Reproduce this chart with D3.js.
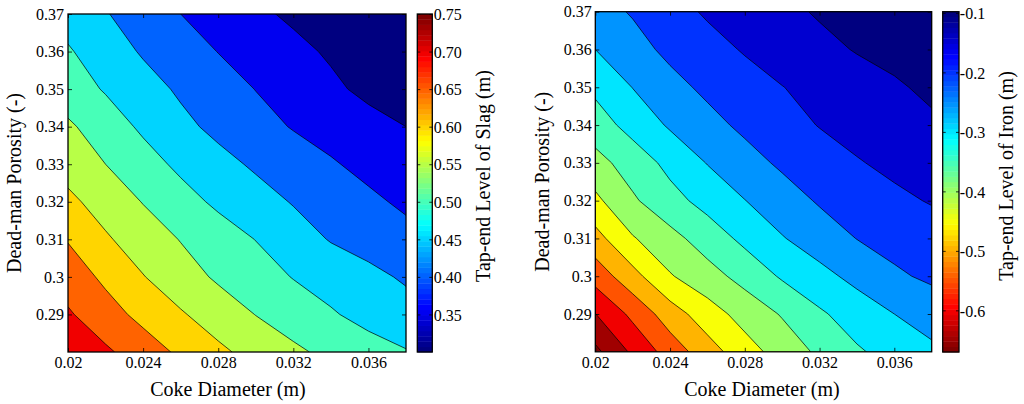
<!DOCTYPE html>
<html>
<head>
<meta charset="utf-8">
<script src="https://cdn.jsdelivr.net/npm/d3@7"></script>
<style>
  html, body { margin: 0; padding: 0; background: #fff; }
  svg { display: block; font-family: "Liberation Serif", "Times New Roman", serif; }
</style>
</head>
<body>
<svg id="chart" width="1024" height="404"></svg>
<script>
// Sample grid: coke diameter (m) across, dead-man porosity (-) up
const cokeDiameter = [0.020, 0.022, 0.024, 0.026, 0.028, 0.030, 0.032, 0.034, 0.036, 0.038];
const porosity = [0.28, 0.29, 0.30, 0.31, 0.32, 0.33, 0.34, 0.35, 0.36, 0.37];

// Tap-end level of slag (m): one row per porosity, one column per coke diameter
const slagLevel = [
  [0.750, 0.708, 0.675, 0.641, 0.610, 0.583, 0.559, 0.538, 0.520, 0.503],
  [0.706, 0.670, 0.636, 0.605, 0.576, 0.549, 0.527, 0.505, 0.484, 0.468],
  [0.677, 0.640, 0.602, 0.571, 0.543, 0.521, 0.498, 0.480, 0.462, 0.444],
  [0.647, 0.606, 0.576, 0.548, 0.523, 0.499, 0.472, 0.447, 0.432, 0.416],
  [0.611, 0.580, 0.548, 0.518, 0.491, 0.469, 0.447, 0.429, 0.410, 0.391],
  [0.581, 0.550, 0.519, 0.490, 0.465, 0.443, 0.424, 0.405, 0.386, 0.367],
  [0.558, 0.524, 0.492, 0.462, 0.438, 0.417, 0.397, 0.381, 0.366, 0.350],
  [0.523, 0.496, 0.469, 0.443, 0.421, 0.399, 0.379, 0.359, 0.339, 0.319],
  [0.505, 0.474, 0.445, 0.422, 0.399, 0.381, 0.362, 0.344, 0.325, 0.306],
  [0.480, 0.453, 0.426, 0.400, 0.380, 0.359, 0.342, 0.328, 0.314, 0.300]
];

// Tap-end level of iron (m), same grid
const ironLevel = [
  [-0.712, -0.641, -0.578, -0.522, -0.471, -0.429, -0.391, -0.356, -0.332, -0.311],
  [-0.651, -0.588, -0.524, -0.473, -0.431, -0.396, -0.357, -0.327, -0.300, -0.276],
  [-0.580, -0.517, -0.454, -0.419, -0.383, -0.344, -0.315, -0.286, -0.257, -0.242],
  [-0.518, -0.454, -0.416, -0.377, -0.338, -0.303, -0.275, -0.249, -0.235, -0.220],
  [-0.461, -0.407, -0.367, -0.333, -0.301, -0.272, -0.245, -0.227, -0.209, -0.197],
  [-0.417, -0.378, -0.336, -0.298, -0.268, -0.242, -0.222, -0.203, -0.190, -0.178],
  [-0.374, -0.332, -0.294, -0.265, -0.240, -0.218, -0.198, -0.185, -0.172, -0.159],
  [-0.339, -0.299, -0.265, -0.240, -0.220, -0.201, -0.186, -0.171, -0.157, -0.139],
  [-0.300, -0.267, -0.239, -0.217, -0.196, -0.179, -0.163, -0.147, -0.134, -0.120],
  [-0.268, -0.246, -0.218, -0.194, -0.178, -0.162, -0.145, -0.130, -0.115, -0.100]
];

// Contour levels and colour scale ranges
const slagLevels = [0.35, 0.40, 0.45, 0.50, 0.55, 0.60, 0.65, 0.70];
const ironLevels = [-0.70, -0.65, -0.60, -0.55, -0.50, -0.45, -0.40, -0.35, -0.30, -0.25, -0.20, -0.15];
const slagColorRange = [0.30, 0.75];
const ironColorRange = [-0.67, -0.098];

// Tick labels
const diameterTicks = [0.02, 0.024, 0.028, 0.032, 0.036];
const porosityTicks = [0.29, 0.3, 0.31, 0.32, 0.33, 0.34, 0.35, 0.36, 0.37];
const slagColorTicks = [0.35, 0.40, 0.45, 0.50, 0.55, 0.60, 0.65, 0.70, 0.75];
const ironColorTicks = [-0.1, -0.2, -0.3, -0.4, -0.5, -0.6];

// 64-step jet colour map
function jet(t) {
  const c = v => Math.max(0, Math.min(1, v));
  const r = c(Math.min(4 * t - 1.5, -4 * t + 4.5));
  const g = c(Math.min(4 * t - 0.5, -4 * t + 3.5));
  const b = c(Math.min(4 * t + 0.5, -4 * t + 2.5));
  return d3.rgb(r * 255, g * 255, b * 255).formatHex();
}
function jet64(t) {
  const i = Math.max(0, Math.min(63, Math.floor(t * 64)));
  return jet(i / 63);
}

const FONT = '"Liberation Serif", "Times New Roman", serif';
const svg = d3.select("#chart");

const panels = [
  {
    id: "slag", values: slagLevel, levels: slagLevels, colorRange: slagColorRange,
    colorTicks: slagColorTicks, colorFormat: d3.format(".2f"), reversed: false,
    barTitle: "Tap-end Level of Slag (m)",
    plot: [68, 406, 14, 352], bar: [417.3, 432.3, 14, 352],
    yTitleX: 21, xTitleX: 228, xTitleY: 395.5, barTitleX: 490, yTickPad: 4, barPad: 1.5
  },
  {
    id: "iron", values: ironLevel, levels: ironLevels, colorRange: ironColorRange,
    colorTicks: ironColorTicks, colorFormat: d => String(d), reversed: true,
    barTitle: "Tap-end Level of Iron (m)",
    plot: [595.3, 931.7, 11.7, 351.8], bar: [942.7, 959, 11.7, 352],
    yTitleX: 549, xTitleX: 762, xTitleY: 396, barTitleX: 1013, yTickPad: 3.6, barPad: 0.8
  }
];

function styleAxis(g) {
  g.select(".domain").remove();
  g.attr("font-size", 16).attr("font-family", FONT);
  g.selectAll(".tick line").attr("stroke", "#000").attr("stroke-width", 0.8);
  g.selectAll(".tick text").attr("fill", "#000");
}

panels.forEach(p => {
  const [px0, px1, py0, py1] = p.plot;
  const [bx0, bx1, by0, by1] = p.bar;
  const nx = cokeDiameter.length, ny = porosity.length;

  const x = d3.scaleLinear().domain(d3.extent(cokeDiameter)).range([px0, px1]);
  const y = d3.scaleLinear().domain(d3.extent(porosity)).range([py1, py0]);

  // grid index space of d3.contours -> data -> pixels (sample i sits at i + 0.5)
  const gx = d3.scaleLinear().domain([0.5, nx - 0.5]).range([x(cokeDiameter[0]), x(cokeDiameter[nx - 1])]);
  const gy = d3.scaleLinear().domain([0.5, ny - 0.5]).range([y(porosity[0]), y(porosity[ny - 1])]);
  const path = d3.geoPath(d3.geoTransform({
    point(a, b) { this.stream.point(gx(a), gy(b)); }
  }));

  const [lo, hi] = p.colorRange;
  const colorOf = v => jet64(p.reversed ? (hi - v) / (hi - lo) : (v - lo) / (hi - lo));
  const step = p.levels[1] - p.levels[0];
  const bandColor = t => colorOf(p.reversed ? t + step : t);

  const contours = d3.contours().size([nx, ny]).thresholds(p.levels)(p.values.flat());

  const clipId = "clip-" + p.id;
  svg.append("clipPath").attr("id", clipId)
    .append("rect").attr("x", px0).attr("y", py0).attr("width", px1 - px0).attr("height", py1 - py0);

  const field = svg.append("g").attr("clip-path", `url(#${clipId})`);
  field.append("rect")
    .attr("x", px0).attr("y", py0).attr("width", px1 - px0).attr("height", py1 - py0)
    .attr("fill", p.reversed ? colorOf(p.levels[0]) : colorOf(lo));

  field.selectAll("path.band").data(contours).join("path")
    .attr("class", "band")
    .attr("d", path)
    .attr("fill", d => bandColor(d.value))
    .attr("stroke", "none");

  field.selectAll("path.iso").data(contours).join("path")
    .attr("class", "iso")
    .attr("d", path)
    .attr("fill", "none")
    .attr("stroke", "#000")
    .attr("stroke-width", 0.7)
    .attr("stroke-linejoin", "round");

  // axes with inward ticks on all four sides
  svg.append("g").attr("transform", `translate(0,${py1})`)
    .call(d3.axisBottom(x).tickValues(diameterTicks).tickFormat(d => String(d))
      .tickSizeInner(-4).tickSizeOuter(0).tickPadding(4.6))
    .call(styleAxis);
  svg.append("g").attr("transform", `translate(0,${py0})`)
    .call(d3.axisTop(x).tickValues(diameterTicks).tickFormat("").tickSizeInner(-4).tickSizeOuter(0))
    .call(styleAxis);
  svg.append("g").attr("transform", `translate(${px0},0)`)
    .call(d3.axisLeft(y).tickValues(porosityTicks).tickFormat(d => String(d))
      .tickSizeInner(-4).tickSizeOuter(0).tickPadding(p.yTickPad))
    .call(styleAxis);
  svg.append("g").attr("transform", `translate(${px1},0)`)
    .call(d3.axisRight(y).tickValues(porosityTicks).tickFormat("").tickSizeInner(-4).tickSizeOuter(0))
    .call(styleAxis);

  svg.append("rect")
    .attr("x", px0).attr("y", py0).attr("width", px1 - px0).attr("height", py1 - py0)
    .attr("fill", "none").attr("stroke", "#000").attr("stroke-width", 1.3);

  // axis titles
  svg.append("text")
    .attr("x", p.xTitleX).attr("y", p.xTitleY)
    .attr("text-anchor", "middle").attr("font-size", 20).attr("font-family", FONT)
    .text("Coke Diameter (m)");
  svg.append("text")
    .attr("transform", `translate(${p.yTitleX},${(py0 + py1) / 2}) rotate(-90)`)
    .attr("text-anchor", "middle").attr("font-size", 20).attr("font-family", FONT)
    .text("Dead-man Porosity (-)");

  // colour bar
  const cy = d3.scaleLinear().domain([lo, hi]).range([by1, by0]);
  const slices = d3.range(64).map(k => [lo + k * (hi - lo) / 64, lo + (k + 1) * (hi - lo) / 64]);
  svg.append("g").selectAll("rect").data(slices).join("rect")
    .attr("x", bx0).attr("width", bx1 - bx0)
    .attr("y", d => cy(d[1]))
    .attr("height", d => cy(d[0]) - cy(d[1]) + 0.4)
    .attr("fill", d => colorOf((d[0] + d[1]) / 2));

  svg.append("g").attr("transform", `translate(${bx1},0)`)
    .call(d3.axisRight(cy).tickValues(p.colorTicks).tickFormat(p.colorFormat)
      .tickSizeInner(-3).tickSizeOuter(0).tickPadding(p.barPad))
    .call(styleAxis)
    .call(g => g.selectAll(".tick text").attr("dy", "0.36em"));
  svg.append("g").attr("transform", `translate(${bx0},0)`)
    .call(d3.axisLeft(cy).tickValues(p.colorTicks).tickFormat("").tickSizeInner(-3).tickSizeOuter(0))
    .call(styleAxis);

  svg.append("rect")
    .attr("x", bx0).attr("y", by0).attr("width", bx1 - bx0).attr("height", by1 - by0)
    .attr("fill", "none").attr("stroke", "#000").attr("stroke-width", 1.3);

  svg.append("text")
    .attr("transform", `translate(${p.barTitleX},176) rotate(-90)`)
    .attr("text-anchor", "middle").attr("font-size", 20).attr("font-family", FONT)
    .text(p.barTitle);
});
</script>
</body>
</html>
